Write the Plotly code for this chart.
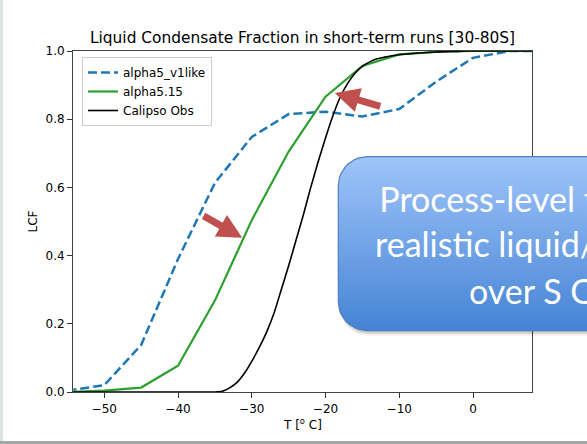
import numpy as np
import plotly.graph_objects as go

# ---- data ----
T_model = [-55, -50, -45, -40, -35, -30, -25, -20, -15, -10, -5, 0, 5, 10]
lcf_v1like = [0.004, 0.02, 0.138, 0.39, 0.613, 0.748, 0.815, 0.822, 0.808, 0.83, 0.91, 0.98, 1.0, 1.0]
lcf_a515 = [0.0, 0.004, 0.013, 0.077, 0.268, 0.504, 0.705, 0.866, 0.956, 0.99, 0.997, 1.0, 1.0, 1.0]

T_obs = list(range(-55, 11))
lcf_obs = ([0.0] * 21 +
           [0.002, 0.012, 0.028, 0.055, 0.09, 0.13, 0.175, 0.23, 0.30, 0.37,
            0.445, 0.52, 0.60, 0.675, 0.745, 0.81, 0.865, 0.905, 0.935, 0.955,
            0.968, 0.977, 0.982, 0.986, 0.989, 0.991, 0.993, 0.995, 0.996, 0.997,
            0.998, 0.999, 0.999, 1.0, 1.0, 1.0, 1.0, 1.0, 1.0, 1.0, 1.0, 1.0,
            1.0, 1.0, 1.0])

series_names = ["alpha5_v1like", "alpha5.15", "Calipso Obs"]
x_ticks = [-50, -40, -30, -20, -10, 0]
y_ticks = [0.0, 0.2, 0.4, 0.6, 0.8, 1.0]
title_text = "Liquid Condensate Fraction in short-term runs [30-80S]"
box_lines = ["Process-level tuning", "realistic liquid/ice", "over S Ocean"]

W, H = 587, 444
# plot-area pixel bounds
PX0, PX1, PY0, PY1 = 73.3, 532.0, 51.0, 392.0

fig = go.Figure()
fig.add_trace(go.Scatter(x=T_model, y=lcf_v1like, mode="lines", name=series_names[0],
                         line=dict(color="#1f77b4", width=2.5, dash="9px,4px")))
fig.add_trace(go.Scatter(x=T_model, y=lcf_a515, mode="lines", name=series_names[1],
                         line=dict(color="#2ca02c", width=2.2)))
fig.add_trace(go.Scatter(x=T_obs, y=lcf_obs, mode="lines", name=series_names[2],
                         line=dict(color="black", width=1.6, shape="spline", smoothing=0.6)))

# ---- overlay callout box in pixel coordinates (y up) ----
def rounded_rect(x0, y0, x1, y1, r, n=12):
    xs, ys = [], []
    corners = [(x1 - r, y1 - r, 0, 90), (x0 + r, y1 - r, 90, 180),
               (x0 + r, y0 + r, 180, 270), (x1 - r, y0 + r, 270, 360)]
    for cx, cy, a0, a1 in corners:
        for a in np.linspace(np.radians(a0), np.radians(a1), n):
            xs.append(cx + r * np.cos(a))
            ys.append(cy + r * np.sin(a))
    xs.append(xs[0]); ys.append(ys[0])
    return xs, ys

bx0, bx1 = 338.3, 760.0
by1, by0 = H - 156.7, H - 330.7
for off, alpha in [(5, 0.06), (3.5, 0.08), (2, 0.10)]:
    sx, sy = rounded_rect(bx0 + 1, by0 - off, bx1, by1 - 1, 29)
    fig.add_trace(go.Scatter(x=sx, y=sy, xaxis="x2", yaxis="y2", mode="lines",
                             fill="toself", fillcolor=f"rgba(0,0,0,{alpha})",
                             line=dict(width=0), showlegend=False, hoverinfo="skip"))
rx, ry = rounded_rect(bx0, by0, bx1, by1, 29)
fig.add_trace(go.Scatter(x=rx, y=ry, xaxis="x2", yaxis="y2", mode="lines",
                         fill="toself",
                         fillgradient=dict(type="vertical",
                                           colorscale=[[0, "#4583d4"], [1, "#9fc5fa"]]),
                         line=dict(color="#4f7fbe", width=1.2),
                         showlegend=False, hoverinfo="skip"))
# callout text, clipped at the figure edge by the overlay axes
fig.add_trace(go.Scatter(x=[379.3, 375.0, 469.0], y=[H - 203.5, H - 248.5, H - 295],
                         xaxis="x2", yaxis="y2", mode="text", text=box_lines,
                         textposition="middle right", cliponaxis=True,
                         textfont=dict(size=34, family="Lato", color="white"),
                         showlegend=False, hoverinfo="skip"))

fig.update_layout(
    width=W, height=H,
    margin=dict(l=0, r=0, t=0, b=0, pad=0),
    paper_bgcolor="white", plot_bgcolor="rgba(0,0,0,0)",
    font=dict(family="DejaVu Sans", color="black", size=12),
    showlegend=True,
    legend=dict(x=82 / W, y=1 - 57 / H, xanchor="left", yanchor="top",
                bgcolor="rgba(255,255,255,0.85)", bordercolor="#cccccc", borderwidth=1,
                font=dict(size=12, family="DejaVu Sans"), tracegroupgap=0),
    xaxis=dict(domain=[PX0 / W, PX1 / W], range=[-54.2, 8.0], tickvals=x_ticks,
               ticktext=["\u221250", "\u221240", "\u221230", "\u221220", "\u221210", "0"],
               ticks="outside", ticklen=5, tickwidth=1.2, tickcolor="#333",
               showline=True, linecolor="#444", linewidth=1.4, mirror=True,
               showgrid=False, zeroline=False, tickfont=dict(size=12), anchor="y",
               automargin=False),
    yaxis=dict(domain=[1 - PY1 / H, 1 - PY0 / H], range=[0, 1], tickvals=y_ticks,
               tickformat=".1f",
               ticks="outside", ticklen=5, tickwidth=1.2, tickcolor="#333",
               showline=True, linecolor="#444", linewidth=1.4, mirror=True,
               showgrid=False, zeroline=False, tickfont=dict(size=12), anchor="x",
               automargin=False),
    xaxis2=dict(domain=[0, 1], range=[0, W], visible=False, anchor="y2", fixedrange=True,
                automargin=False),
    yaxis2=dict(domain=[0, 1], range=[0, H], visible=False, anchor="x2", fixedrange=True,
                automargin=False),
)

ann = []
ann.append(dict(text=title_text, x=(PX0 + PX1) / 2 / W, y=1 - 38 / H, xref="paper", yref="paper",
                showarrow=False, font=dict(size=15.4, family="DejaVu Sans"),
                xanchor="center", yanchor="middle"))
ann.append(dict(text="LCF", x=33 / W, y=1 - 221.5 / H, xref="paper", yref="paper",
                showarrow=False, textangle=-90, font=dict(size=12),
                xanchor="center", yanchor="middle"))
ann.append(dict(text="T [<sup>o</sup> C]", x=(PX0 + PX1) / 2 / W, y=1 - 424 / H,
                xref="paper", yref="paper", showarrow=False, font=dict(size=12),
                xanchor="center", yanchor="middle"))
# arrows
for (hx, hy), (tx, ty) in [((-18.74, 0.877), (-12.37, 0.836)),
                           ((-31.3, 0.452), (-36.74, 0.519))]:
    ann.append(dict(x=hx, y=hy, ax=tx, ay=ty, xref="x", yref="y", axref="x", ayref="y",
                    text="", showarrow=True, arrowhead=2, arrowsize=0.7, arrowwidth=7,
                    arrowcolor="#c0504d", standoff=0))
fig.update_layout(annotations=ann)

# slide frame: left strip and bottom shadow band
fig.add_shape(type="rect", xref="paper", yref="paper", x0=0, x1=3 / W, y0=0, y1=1,
              fillcolor="#dde4e6", line=dict(width=0), layer="above")
fig.add_shape(type="rect", xref="paper", yref="paper", x0=0, x1=1, y0=0, y1=3 / H,
              fillcolor="#a3a7a6", line=dict(width=0), layer="above")

fig.write_html("out.html")
